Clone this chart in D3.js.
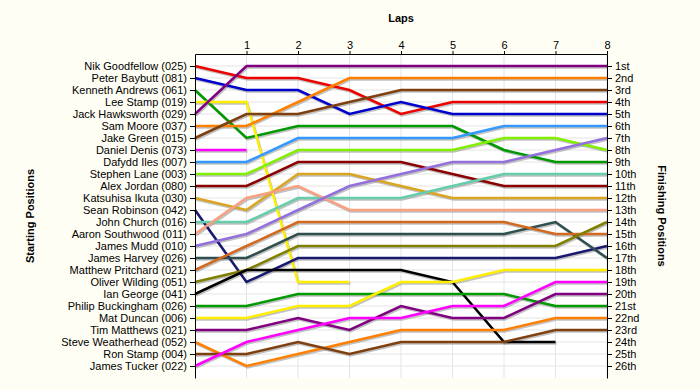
<!DOCTYPE html>
<html>
<head>
<meta charset="utf-8">
<script src="https://cdn.jsdelivr.net/npm/d3@7"></script>
<style>
  body { margin: 0; background: #fffef4; }
  svg { display: block; font-family: "Liberation Sans", Arial, sans-serif; }
  .axis text { font-size: 11px; fill: #000; }
  .axis path, .axis line { stroke: #000; }
  .title { font-size: 11px; font-weight: bold; }
</style>
</head>
<body>
<div id="chart"></div>
<script>
// drivers in starting order
var drivers = ["Nik Goodfellow (025)", "Peter Baybutt (081)", "Kenneth Andrews (061)", "Lee Stamp (019)",
    "Jack Hawksworth (029)", "Sam Moore (037)", "Jake Green (015)", "Daniel Denis (073)", "Dafydd Iles (007)",
    "Stephen Lane (003)", "Alex Jordan (080)", "Katsuhisa Ikuta (030)", "Sean Robinson (042)", "John Church (016)",
    "Aaron Southwood (011)", "James Mudd (010)", "James Harvey (026)", "Matthew Pritchard (021)",
    "Oliver Wilding (051)", "Ian George (041)", "Philip Buckingham (026)", "Mat Duncan (006)",
    "Tim Matthews (021)", "Steve Weatherhead (052)", "Ron Stamp (004)", "James Tucker (022)"];

// position after each lap (index 0 = start), shorter rows = retired
var positions = [
    [1, 2, 2, 3, 5, 4, 4, 4, 4],
    [2, 3, 3, 5, 4, 5, 5, 5, 5],
    [3, 7, 6, 6, 6, 6, 8, 9, 9],
    [4, 4, 19, 19],
    [5, 1, 1, 1, 1, 1, 1, 1, 1],
    [6, 6, 4, 2, 2, 2, 2, 2, 2],
    [7, 5, 5, 4, 3, 3, 3, 3, 3],
    [8, 8],
    [9, 9, 7, 7, 7, 7, 6, 6, 6],
    [10, 10, 8, 8, 8, 8, 7, 7, 8],
    [11, 11, 9, 9, 9, 10, 11, 11, 11],
    [12, 13, 10, 10, 11, 12, 12, 12, 12],
    [13, 19, 17, 17, 17, 17, 17, 17, 16],
    [14, 14, 12, 12, 12, 11, 10, 10, 10],
    [15, 12, 11, 13, 13, 13, 13, 13, 13],
    [16, 15, 13, 11, 10, 9, 9, 8, 7],
    [17, 17, 15, 15, 15, 15, 15, 14, 17],
    [18, 16, 14, 14, 14, 14, 14, 15, 15],
    [19, 18, 16, 16, 16, 16, 16, 16, 14],
    [20, 18, 18, 18, 18, 19, 24, 24],
    [21, 21, 20, 20, 20, 20, 20, 21, 21],
    [22, 22, 21, 21, 19, 19, 18, 18, 18],
    [23, 23, 22, 23, 21, 22, 22, 20, 20],
    [24, 26, 25, 24, 23, 23, 23, 22, 22],
    [25, 25, 24, 25, 24, 24, 24, 23, 23],
    [26, 24, 23, 22, 22, 21, 21, 19, 19]
];

var laps = [1, 2, 3, 4, 5, 6, 7, 8];
var finishLabels = ["1st", "2nd", "3rd", "4th", "5th", "6th", "7th", "8th", "9th", "10th", "11th", "12th", "13th",
    "14th", "15th", "16th", "17th", "18th", "19th", "20th", "21st", "22nd", "23rd", "24th", "25th", "26th"];

var palette = ["#ee0000", "#0000cc", "#009900", "#ffee00", "#800080", "#ff8000", "#7f4010", "#ff00ff",
    "#3399ff", "#80f000", "#8b0000", "#daa520", "#191970", "#66cdaa", "#f8a080", "#9370db", "#2f4f4f",
    "#d2691e", "#808000", "#000000", "#009900", "#ffee00", "#800080", "#ff8000", "#7f4010", "#ff00ff"];

var width = 700, height = 390;
var plot = {left: 195, right: 607, top: 54, bottom: 378};

var svg = d3.select("#chart").append("svg")
    .attr("width", width)
    .attr("height", height);

svg.append("rect")
    .attr("x", plot.left).attr("y", plot.top)
    .attr("width", plot.right - plot.left).attr("height", plot.bottom - plot.top)
    .attr("fill", "#fff");

var x = d3.scaleLinear().domain([0, 8]).range([plot.left, plot.right]);
var y = d3.scaleLinear().domain([0, 27]).range([plot.top, plot.bottom]);
var rows = d3.range(1, 27);

// grid
svg.append("g").selectAll("line")
    .data(rows)
    .enter().append("line")
    .attr("x1", plot.left).attr("x2", plot.right)
    .attr("y1", function(d) { return y(d); })
    .attr("y2", function(d) { return y(d); })
    .attr("stroke", "#e4e4e4");

svg.append("g").selectAll("line")
    .data(laps)
    .enter().append("line")
    .attr("x1", function(d) { return x(d); })
    .attr("x2", function(d) { return x(d); })
    .attr("y1", plot.top).attr("y2", plot.bottom)
    .attr("stroke", "#e4e4e4");

var line = d3.line()
    .x(function(d, i) { return x(i); })
    .y(function(d) { return y(d); });

// shadows first, then coloured lines
svg.append("g").selectAll("path")
    .data(positions)
    .enter().append("path")
    .attr("d", line)
    .attr("transform", "translate(1,1.5)")
    .attr("fill", "none")
    .attr("stroke", "#999")
    .attr("stroke-opacity", 0.6)
    .attr("stroke-width", 2.5);

svg.append("g").selectAll("path")
    .data(positions)
    .enter().append("path")
    .attr("d", line)
    .attr("fill", "none")
    .attr("stroke", function(d, i) { return palette[i]; })
    .attr("stroke-width", 2.5);

// axes
svg.append("g")
    .attr("class", "axis")
    .attr("transform", "translate(0," + plot.top + ")")
    .call(d3.axisTop(x).tickValues(laps).tickSize(3).tickPadding(2).tickSizeOuter(0));

svg.append("g")
    .attr("class", "axis")
    .attr("transform", "translate(" + plot.left + ",0)")
    .call(d3.axisLeft(y).tickValues(rows).tickSize(5).tickPadding(3).tickSizeOuter(0)
        .tickFormat(function(d) { return drivers[d - 1]; }));

svg.append("g")
    .attr("class", "axis")
    .attr("transform", "translate(" + plot.right + ",0)")
    .call(d3.axisRight(y).tickValues(rows).tickSize(5).tickPadding(3).tickSizeOuter(0)
        .tickFormat(function(d) { return finishLabels[d - 1]; }));

// titles
svg.append("text")
    .attr("class", "title")
    .attr("x", (plot.left + plot.right) / 2)
    .attr("y", 22)
    .attr("text-anchor", "middle")
    .text("Laps");

svg.append("text")
    .attr("class", "title")
    .attr("transform", "translate(34," + (plot.top + plot.bottom) / 2 + ") rotate(-90)")
    .attr("text-anchor", "middle")
    .text("Starting Positions");

svg.append("text")
    .attr("class", "title")
    .attr("transform", "translate(658," + (plot.top + plot.bottom) / 2 + ") rotate(90)")
    .attr("text-anchor", "middle")
    .text("Finishing Positions");
</script>
</body>
</html>
